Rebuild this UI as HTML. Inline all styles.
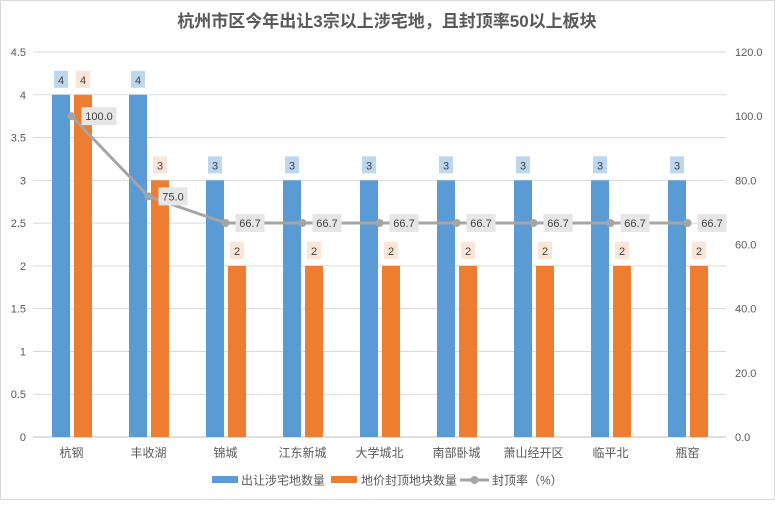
<!DOCTYPE html>
<html><head><meta charset="utf-8"><style>
body{margin:0;background:#fff;}
svg text{font-family:"Liberation Sans","Noto Sans CJK SC",sans-serif;}
</style></head><body>
<svg width="775" height="500" viewBox="0 0 775 500">
<rect x="0.5" y="0.5" width="774" height="499" fill="#fff" stroke="#d9d9d9"/>
<text x="387" y="27" text-anchor="middle" font-size="17" font-weight="bold" fill="#595959">杭州市区今年出让3宗以上涉宅地，且封顶率50以上板块</text>
<g id="grid"></g><g id="bars"></g><g id="line"></g><g id="axes"></g>
<g font-size="12" fill="#595959">
<rect x="212" y="476" width="26" height="7" fill="#5b9bd5"/>
<text x="241" y="484.5">出让涉宅地数量</text>
<rect x="331" y="476" width="26" height="7" fill="#ed7d31"/>
<text x="361" y="484.5">地价封顶地块数量</text>
<line x1="460" y1="480" x2="489" y2="480" stroke="#a5a5a5" stroke-width="3"/>
<circle cx="474.5" cy="480" r="4" fill="#a5a5a5"/>
<text x="492" y="484.5">封顶率（%）</text>
</g>
</svg>
<script>
const categories=["杭钢","丰收湖","锦城","江东新城","大学城北","南部卧城","萧山经开区","临平北","瓶窑"];
const totalLots=[4,4,3,3,3,3,3,3,3];
const cappedLots=[4,3,2,2,2,2,2,2,2];
const capRate=[100,75,66.7,66.7,66.7,66.7,66.7,66.7,66.7];
const leftTicks=[0,0.5,1,1.5,2,2.5,3,3.5,4,4.5];
const rightTicks=[0,20,40,60,80,100,120];
const NS="http://www.w3.org/2000/svg";
const X0=33,X1=726,Y0=437,Y1=52;
const step=(X1-X0)/categories.length;
const xc=i=>X0+step*(i+0.5);
const yL=v=>Y0-(v/4.5)*(Y0-Y1);
const yR=v=>Y0-(v/120)*(Y0-Y1);
function mk(tag,attrs,parent,txt){const e=document.createElementNS(NS,tag);for(const k in attrs)e.setAttribute(k,attrs[k]);if(txt!==undefined)e.textContent=txt;parent.appendChild(e);return e;}
const grid=document.getElementById('grid'),bars=document.getElementById('bars'),line=document.getElementById('line'),axes=document.getElementById('axes');
leftTicks.forEach(t=>{const g=mk('line',{x1:X0,x2:X1,y1:yL(t),y2:yL(t),stroke:t===0?'#bfbfbf':'#d9d9d9'},grid);


const l=mk('text',{x:26,y:yL(t)+4,'text-anchor':'end','font-size':11,fill:'#595959'},axes,String(t));

});
rightTicks.forEach(t=>{const l=mk('text',{x:735,y:yR(t)+4,'font-size':11,fill:'#595959'},axes,t.toFixed(1));

});
categories.forEach((c,i)=>{
const cx=xc(i);
const l=mk('text',{x:cx,y:457,'text-anchor':'middle','font-size':12,fill:'#595959'},axes,c);


[[totalLots[i],cx-19.5,'#5b9bd5','#bdd7ee'],[cappedLots[i],cx+2.5,'#ed7d31','#fbe5d6']].forEach(([v,x,col,lc],k)=>{
const r=mk('rect',{x:x,y:yL(v),width:18,height:Y0-yL(v),fill:col},bars);


const by=yL(v)-24;
const b=mk('rect',{x:x+2,y:by,width:14,height:17,fill:lc},bars);


const t=mk('text',{x:x+9,y:by+13,'text-anchor':'middle','font-size':11,fill:'#404040'},bars,String(v));


});});
const pts=capRate.map((v,i)=>xc(i)+','+yR(v)).join(' ');
const pl=mk('polyline',{points:pts,fill:'none',stroke:'#a5a5a5','stroke-width':3},line);


capRate.forEach((v,i)=>{
const c=mk('circle',{cx:xc(i),cy:yR(v),r:4,fill:'#a5a5a5'},line);


const w=v>=100?35:29;
const b=mk('rect',{x:xc(i)+10,y:yR(v)-9,width:w,height:18,fill:'#e7e6e6'},line);


const t=mk('text',{x:xc(i)+10+w/2,y:yR(v)+4,'text-anchor':'middle','font-size':11,fill:'#404040'},line,v.toFixed(1));


});
</script>
</body></html>
